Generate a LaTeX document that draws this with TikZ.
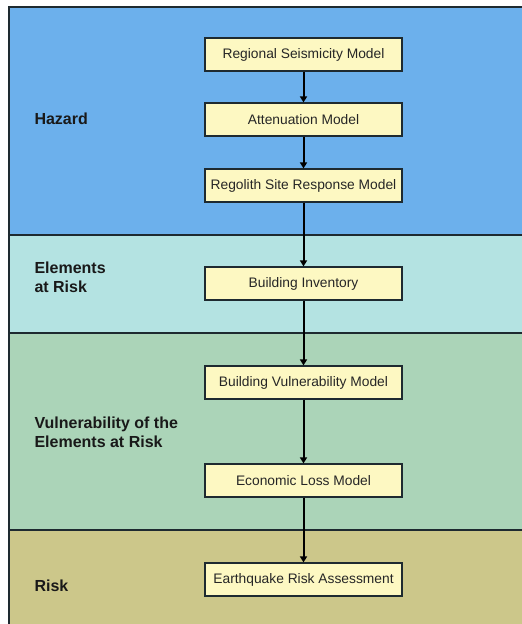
\documentclass[tikz,border=0pt]{standalone}
\usepackage{fontspec}
\setmainfont{Liberation Sans}
\usetikzlibrary{arrows.meta}
\definecolor{hazardblue}{HTML}{6CB0EC}
\definecolor{elemcyan}{HTML}{B4E3E2}
\definecolor{vulngreen}{HTML}{ABD4B8}
\definecolor{riskolive}{HTML}{CCC78A}
\definecolor{boxfill}{HTML}{FDF8C2}
\definecolor{edge}{HTML}{1E2A30}
\begin{document}
\begin{tikzpicture}[x=1pt,y=-1pt,
  stagebox/.style={draw=edge,line width=1.2pt,fill=boxfill,minimum width=197pt,minimum height=33pt,inner sep=0pt,font=\fontsize{13.8}{16}\selectfont,text=black!85},
  bandlabel/.style={anchor=west,align=left,font=\fontsize{16}{19}\selectfont\bfseries,text=black!90},
  flow/.style={draw=black,line width=2pt,-{Triangle[length=6pt,width=7pt]}},
  band/.style={draw=edge,line width=1.5pt}]
\useasboundingbox (0,0) rectangle (522,624);
\begin{scope}
\clip (0,0) rectangle (522,624);
% coloured bands
\path[band,fill=hazardblue] (9,7) rectangle (540,235);
\path[band,fill=elemcyan] (9,235) rectangle (540,333);
\path[band,fill=vulngreen] (9,333) rectangle (540,530);
\path[band,fill=riskolive] (9,530) rectangle (540,640);
\end{scope}
% band titles
\node[bandlabel] (lh) at (31,119) {Hazard};
\node[bandlabel] (le) at (31,277) {Elements\\at Risk};
\node[bandlabel] (lv) at (31,432) {Vulnerability of the\\Elements at Risk};
\node[bandlabel] (lr) at (31,586) {Risk};
% model chain
\node[stagebox] (rsm) at (303.5,54.5) {Regional Seismicity Model};
\node[stagebox] (att) at (303.5,119.5) {Attenuation Model};
\node[stagebox] (reg) at (303.5,185.5) {Regolith Site Response Model};
\node[stagebox] (inv) at (303.5,283.5) {Building Inventory};
\node[stagebox] (bvm) at (303.5,382.5) {Building Vulnerability Model};
\node[stagebox] (elm) at (303.5,480.5) {Economic Loss Model};
\node[stagebox] (era) at (303.5,579.5) {Earthquake Risk Assessment};
\draw[flow] (rsm) -- (att);
\draw[flow] (att) -- (reg);
\draw[flow] (reg) -- (inv);
\draw[flow] (inv) -- (bvm);
\draw[flow] (bvm) -- (elm);
\draw[flow] (elm) -- (era);
\end{tikzpicture}
\end{document}
